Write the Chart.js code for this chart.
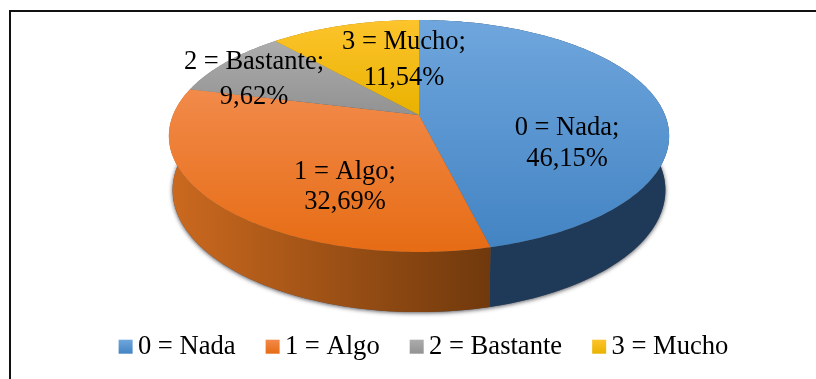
<!DOCTYPE html>
<html>
<head>
<meta charset="utf-8">
<script src="https://cdn.jsdelivr.net/npm/chart.js@4/dist/chart.umd.js"></script>
<style>
  html, body { margin: 0; padding: 0; background: #fff; }
  #lienzo { position: relative; width: 816px; height: 379px; }
</style>
</head>
<body>
<div id="lienzo"><canvas id="grafico"></canvas></div>
<script>
// Categorías y porcentajes.
const CATEGORIAS = ["0 = Nada", "1 = Algo", "2 = Bastante", "3 = Mucho"];
const PORCENTAJES = [46.15, 32.69, 9.62, 11.54];
const ETIQUETAS_VALOR = ["46,15%", "32,69%", "9,62%", "11,54%"];

// Colores: arriba/abajo de la cara superior y extremos de la pared lateral.
const COLOR_ALTO = ["#6fa6dd", "#f28a4a", "#acacac", "#fdc42c"];
const COLOR_BAJO = ["#4384c3", "#e66c14", "#929292", "#e9b200"];
const PARED_A = ["#1d3b5c", "#cb691f", "#7a7a7a", "#a07800"];
const PARED_B = ["#1f3a58", "#70390c", "#7a7a7a", "#a07800"];

const FAMILIA = "'Liberation Serif', 'Times New Roman', serif";
const FUENTE = "26.5px " + FAMILIA;

// Geometría de la tarta en perspectiva (homografía del círculo unidad).
// La base está más cerca del observador: algo más alta y un poco más estrecha.
const TARTA = { cx: 419, cy: 115, sx: 246, sy: 112.2, p: 0.181, fondo: 53, baseX: 0.985, baseY: 1.052 };

// Centro horizontal y líneas base de cada etiqueta de datos.
const POS_ETIQUETAS = [[567, 135, 166], [345, 179, 209], [254, 69, 104], [404, 49, 85]];

const LADO_CUADRO = 14;

function proyectar(ang, base) {
  // ang: ángulo del ArcElement de Chart.js (0 = derecha, sentido horario).
  const x = Math.cos(ang), y = Math.sin(ang);
  const w = 1 - TARTA.p * y;
  const px = TARTA.sx * x / w, py = TARTA.sy * y / w;
  if (base) return [TARTA.cx + px * TARTA.baseX, TARTA.cy + TARTA.fondo + py * TARTA.baseY];
  return [TARTA.cx + px, TARTA.cy + py];
}

function trazarArco(ctx, a0, a1, base, seguir) {
  const pasos = Math.max(2, Math.ceil(Math.abs(a1 - a0) * 60));
  for (let i = 0; i <= pasos; i++) {
    const [x, y] = proyectar(a0 + (a1 - a0) * i / pasos, base);
    if (i === 0 && !seguir) ctx.moveTo(x, y); else ctx.lineTo(x, y);
  }
}

const tarta3D = {
  id: "tarta3D",
  beforeDatasetDraw(chart, args) {
    const ctx = chart.ctx;
    const arcos = chart.getDatasetMeta(args.index).data;
    ctx.save();

    // sombra bajo la base
    ctx.save();
    ctx.shadowColor = "rgba(30,30,40,0.75)";
    ctx.shadowBlur = 4;
    ctx.shadowOffsetY = 1;
    ctx.fillStyle = "#555";
    ctx.beginPath();
    trazarArco(ctx, 0, Math.PI * 2, true, false);
    ctx.closePath();
    ctx.fill();
    ctx.restore();

    // paredes laterales
    arcos.forEach((arc, i) => {
      const g = ctx.createLinearGradient(172, 0, 490, 0);
      g.addColorStop(0, PARED_A[i]);
      g.addColorStop(1, PARED_B[i]);
      ctx.fillStyle = g;
      ctx.beginPath();
      trazarArco(ctx, arc.startAngle, arc.endAngle, false, false);
      trazarArco(ctx, arc.endAngle, arc.startAngle, true, true);
      ctx.closePath();
      ctx.fill();
    });

    // cara superior
    arcos.forEach((arc, i) => {
      let yMin = TARTA.cy, yMax = TARTA.cy;
      const pasos = 40;
      for (let k = 0; k <= pasos; k++) {
        const y = proyectar(arc.startAngle + (arc.endAngle - arc.startAngle) * k / pasos, false)[1];
        yMin = Math.min(yMin, y);
        yMax = Math.max(yMax, y);
      }
      const g = ctx.createLinearGradient(0, yMin, 0, yMax);
      g.addColorStop(0, COLOR_ALTO[i]);
      g.addColorStop(1, COLOR_BAJO[i]);
      ctx.fillStyle = g;
      ctx.beginPath();
      ctx.moveTo(TARTA.cx, TARTA.cy);
      trazarArco(ctx, arc.startAngle, arc.endAngle, false, true);
      ctx.closePath();
      ctx.fill();
    });

    ctx.restore();
    return false; // ya dibujado, Chart.js no pinta sus arcos planos
  },
  afterDraw(chart) {
    const ctx = chart.ctx;
    ctx.save();

    // marco: solo borde superior e izquierdo, el resto queda fuera del recorte
    ctx.strokeStyle = "#111";
    ctx.lineWidth = 2;
    ctx.beginPath();
    ctx.moveTo(10, 379);
    ctx.lineTo(10, 11);
    ctx.lineTo(816, 11);
    ctx.stroke();

    // cuadros de la leyenda sobre los huecos que deja Chart.js
    chart.legend.legendHitBoxes.forEach((h, i) => {
      const y = h.top + (h.height - LADO_CUADRO) / 2;
      const g = ctx.createLinearGradient(0, y, 0, y + LADO_CUADRO);
      g.addColorStop(0, COLOR_ALTO[i]);
      g.addColorStop(1, COLOR_BAJO[i]);
      ctx.fillStyle = g;
      ctx.fillRect(h.left, y, LADO_CUADRO, LADO_CUADRO);
    });

    // etiquetas de datos
    ctx.fillStyle = "#000";
    ctx.font = FUENTE;
    ctx.textAlign = "center";
    ctx.textBaseline = "alphabetic";
    CATEGORIAS.forEach((c, i) => {
      const [x, y1, y2] = POS_ETIQUETAS[i];
      ctx.fillText(c + ";", x, y1);
      ctx.fillText(ETIQUETAS_VALOR[i], x, y2);
    });
    ctx.restore();
  },
};

function etiquetasLeyenda() {
  return CATEGORIAS.map((c, i) => (
    { text: c, fillStyle: "rgba(0,0,0,0)", strokeStyle: "rgba(0,0,0,0)", lineWidth: 0, index: i, hidden: false }
  ));
}

new Chart(document.getElementById("grafico"), {
  type: "pie",
  data: {
    labels: CATEGORIAS,
    datasets: [{ data: PORCENTAJES, backgroundColor: COLOR_BAJO, borderWidth: 0 }],
  },
  options: {
    responsive: true,
    maintainAspectRatio: false,
    animation: false,
    layout: { padding: { left: 31, bottom: 9 } },
    plugins: {
      tooltip: { enabled: false },
      legend: {
        position: "bottom",
        labels: {
          font: { family: FAMILIA, size: 26.6 },
          color: "#000",
          boxWidth: 6,
          boxHeight: 14,
          padding: 30,
          generateLabels: etiquetasLeyenda,
        },
      },
    },
  },
  plugins: [tarta3D],
});
</script>
</body>
</html>
